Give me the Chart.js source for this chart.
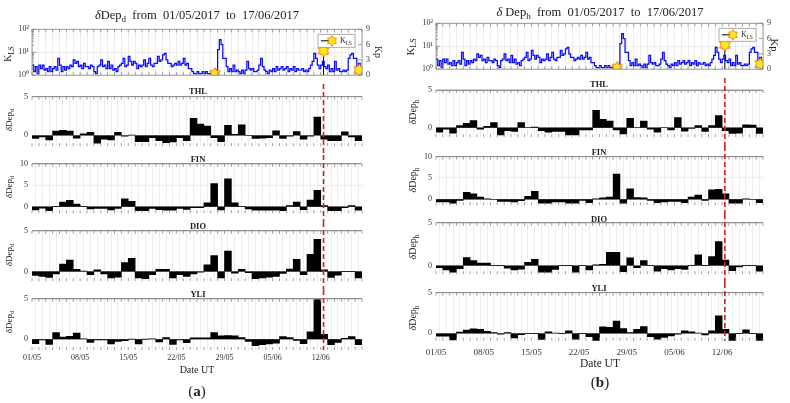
<!DOCTYPE html>
<html>
<head>
<meta charset="utf-8">
<script src="https://cdn.jsdelivr.net/npm/chart.js@4.4.1/dist/chart.umd.min.js"></script>
<style>
body{margin:0;background:#fff;width:790px;height:403px;position:relative;overflow:hidden;font-family:'Liberation Serif','Times New Roman',serif;color:#222}
canvas{position:absolute}
.t{position:absolute;white-space:pre;transform:translate(-50%,-50%);line-height:1}
.r{transform:translate(-50%,-50%) rotate(-90deg)}
.rr{transform:translate(-50%,-50%) rotate(90deg)}
.b{font-weight:bold}
sub{font-size:72%;vertical-align:-0.35em;line-height:0}
</style>
</head>
<body>
<script>
// Data
const days = 48;
const tickLabels = ['01/05', '08/05', '15/05', '22/05', '29/05', '05/06', '12/06'];

// Kp, 4 values per day (6 h)
const kp = [
    2.0, 0.7, 1.7, 0.3,  2.0, 1.3, 2.0, 1.0,  1.3, 0.7, 1.7, 0.7,  1.3, 1.7, 1.0, 3.3,
    2.0, 0.7, 1.7, 1.0,  1.7, 1.3, 2.0, 1.7,  3.0, 2.3, 2.7, 1.7,  2.0, 1.3, 2.3, 1.7,
    1.7, 1.3, 2.0, 1.7,  0.7, 0.3, 1.7, 2.0,  3.0, 1.7, 2.0, 1.3,  2.7, 1.3, 2.0, 1.0,
    1.3, 0.7, 1.7, 2.0,  2.3, 3.3, 1.7, 2.0,  3.7, 2.7, 2.0, 2.7,  2.3, 1.3, 2.0, 1.7,
    2.0, 3.0, 1.7, 2.3,  3.3, 2.0, 1.7, 2.3,  2.3, 3.7, 2.7, 3.0,  4.0, 4.3, 3.0, 2.3,
    2.3, 1.7, 2.0, 2.3,  2.0, 2.7, 2.0, 2.3,  3.3, 2.0, 2.3, 1.3,  1.3, 0.7, 0.3, 0.3,
    0.7, 0.3, 0.3, 0.7,  0.3, 0.7, 0.3, 0.3,  0.3, 0.3, 0.7, 1.0,  5.0, 7.0, 6.0, 3.3,
    3.3, 1.7, 0.7, 1.3,  0.7, 2.0, 0.7, 1.0,  0.7, 0.3, 1.0, 0.3,  1.0, 2.7, 1.3, 1.0,
    1.3, 0.7, 0.7, 1.0,  2.0, 3.3, 1.7, 1.0,  0.7, 0.3, 1.0, 0.7,  1.3, 0.7, 1.7, 1.0,
    1.3, 1.7, 1.0, 1.3,  1.7, 0.7, 1.3, 1.0,  1.7, 0.7, 1.3, 1.0,  1.0, 1.3, 0.7, 1.0,
    0.7, 1.3, 2.0, 2.7,  4.3, 3.3, 2.0, 1.3,  2.0, 2.7, 1.7, 1.3,  2.0, 0.7, 1.3, 0.7,
    2.7, 1.0, 1.3, 0.7,  0.7, 1.0, 0.7, 1.0,  3.3, 4.0, 4.3, 3.3,  3.3, 0.7, 2.3, 1.0
];

const klsDay = [26.6, 42.4, 47.6];
const klsVal = [1.15, 11.5, 1.7];
const eventDay = 42.4;

// daily deltas, panel (a)
const thlD = [-0.4, -0.2, -0.6, 0.55, 0.65, 0.55, -0.35, 0.2, 0.4, -1.0, -0.5, -0.6, 0.4, -0.1, 0.05, -0.8, -0.8, -0.3, -0.7, -0.95, -0.85, -0.3, -0.7, 2.2, 1.45, 1.2, -0.3, -0.8, 1.3, 0.15, 1.35, -0.05, -0.4, -0.35, -0.3, 0.6, -0.4, -0.1, 0.5, -0.5, -0.1, 2.35, -0.5, -0.7, -0.7, 0.45, -0.2, -0.7];
const finD = [-0.75, -0.3, -0.9, 0.05, 1.1, 1.5, 0.6, 0.1, -0.5, -0.4, -0.4, -0.75, -0.4, 1.85, 1.25, -0.9, -0.9, -0.4, -0.7, -0.8, -0.8, -0.4, -0.6, -0.2, -0.2, 0.9, 5.4, -0.75, 6.5, 0.9, 0.1, -0.5, -0.8, -0.8, -0.8, -0.8, -0.9, 0.3, 1.1, -0.7, 1.55, 3.85, 0.3, -0.9, -0.9, -0.2, 0.25, -0.8];
const dioD = [-0.5, -0.6, -0.75, -0.3, 0.9, 1.4, 0.25, 0.05, -0.4, 0.2, -0.3, -0.8, -0.7, 1.1, 1.6, -0.8, -0.9, -0.4, 0.25, 0.25, -0.8, -0.4, -0.6, -0.3, -0.1, 0.8, 1.95, -0.8, 2.5, -0.2, 0.25, -0.15, -0.9, -0.8, -0.7, -0.6, -0.25, 0.3, 1.5, -0.4, 2.1, 3.95, 0.2, -0.75, -0.45, 0, 0, -0.8];
const yliD = [-0.55, -0.1, -0.65, 0.8, 0.25, 0.35, 0.75, 0.05, -0.4, -0.1, -0.1, -0.6, -0.3, -0.2, 0, -0.6, 0, 0.05, -0.35, 0.2, -0.65, -0.1, -0.45, 0.15, 0.15, 0.15, 0.8, 0.4, 0.45, 0.4, 0.2, -0.3, -0.8, -0.7, -0.6, -0.5, 0.3, 0.2, -0.15, -0.55, 0.9, 4.9, 0.6, -0.7, -0.4, 0.1, 0.3, -0.7];

// daily deltas, panel (b)
const thlH = [-0.6, -0.2, -0.7, 0.3, 0.6, 0.95, -0.2, 0.2, 0.7, -0.95, -0.4, -0.5, 0.7, 0, 0.1, -0.4, -0.6, -0.5, -0.5, -0.95, -0.95, -0.3, -0.3, 2.3, 1.1, 0.9, -0.3, -0.8, 1.25, 0, 0.9, -0.2, -0.6, 0, -0.3, 1.35, -0.45, -0.1, 0.3, -0.5, 0.3, 1.6, -0.4, -0.75, -0.7, 0.4, 0.35, -0.75];
const finH = [-0.6, -0.6, -0.9, -0.3, 1.65, 1.25, 0.5, 0.1, 0, -0.5, -0.5, -0.6, -0.35, 0.7, 1.85, -0.9, -0.9, -0.6, -0.6, -0.9, -0.9, -0.3, -0.8, 0.05, 0.35, 0.5, 5.9, -0.9, 2.45, 0.4, 0.35, -0.3, -0.8, -0.6, -0.5, -0.5, -0.8, 0.5, 1.0, -0.3, 2.2, 2.35, 1.3, -0.9, -0.9, 0.1, 0, -0.8];
const dioH = [-0.25, -0.5, -0.75, -0.35, 0.95, 0.6, 0.3, 0.3, 0, 0, -0.3, -0.5, -0.4, 0.4, 0.75, -0.75, -0.75, -0.45, 0, 0, -0.75, 0, -0.5, 0.1, 0.15, 1.55, 1.55, -0.7, 0.9, -0.25, 0.6, 0, -0.65, -0.35, -0.5, -0.35, -0.45, 0, 1.25, 0, 1.05, 2.8, 0.65, -0.6, -0.15, 0, 0, -0.65];
const yliH = [-0.35, -0.35, -0.8, 0.15, 0.4, 0.55, 0.5, 0.25, 0.1, -0.1, 0.1, -0.55, -0.15, 0, 0, -0.75, 0.2, 0.05, 0, 0.3, -0.7, 0, -0.4, -0.9, 0.8, 0.75, 1.5, 0.6, 0.1, 0.5, 0.85, -0.4, -0.7, -0.5, -0.3, -0.1, 0.3, 0.2, 0.05, -0.2, 0.3, 2.15, 0.5, -0.9, 0, 0.45, 0, -0.9];

const SERIF = "'Liberation Serif', 'Times New Roman', serif";
const gridCol = '#e4e4e4';
const axisCol = '#858585';
const sup = ['\u2070', '\u00b9', '\u00b2'];

// hexagram used for K_LS points
function makeStar(size) {
    const c = document.createElement('canvas');
    c.width = size; c.height = size;
    const g = c.getContext('2d');
    const R = size / 2 - 0.8, r = R * 0.6, cx = size / 2, cy = size / 2;
    g.beginPath();
    for (let i = 0; i < 12; i++) {
        const rad = i % 2 === 0 ? R : r;
        const ang = -Math.PI / 2 + i * Math.PI / 6;
        const px = cx + rad * Math.cos(ang), py = cy + rad * Math.sin(ang);
        if (i === 0) g.moveTo(px, py); else g.lineTo(px, py);
    }
    g.closePath();
    g.fillStyle = '#ffe81e';
    g.fill();
    g.strokeStyle = '#f06a0a';
    g.lineWidth = 0.9;
    g.stroke();
    return c;
}
const starImg = makeStar(14);

function addCanvas(x, y, w, h) {
    const c = document.createElement('canvas');
    c.width = w; c.height = h;
    c.style.left = x + 'px'; c.style.top = y + 'px';
    c.style.width = w + 'px'; c.style.height = h + 'px';
    document.body.appendChild(c);
    return c;
}

function txt(html, x, y, size, cls) {
    const d = document.createElement('div');
    d.className = 't ' + (cls || '');
    d.style.left = x + 'px';
    d.style.top = y + 'px';
    d.style.fontSize = size + 'px';
    d.innerHTML = html;
    document.body.appendChild(d);
}

const dayTicks = s => { s.ticks = Array.from({ length: days + 1 }, (_, d) => ({ value: d })); };
const xLabel = v => (v % 7 === 0 && tickLabels[v / 7]) ? tickLabels[v / 7] : '';

// matlab-ish frame, inner ticks, event line, legend, stems
const framePlugin = {
    id: 'frame',
    beforeDatasetsDraw(chart, args, o) {
        if (!o.stems) return;
        const { ctx, chartArea: a, scales } = chart;
        ctx.save();
        ctx.strokeStyle = '#000';
        ctx.lineWidth = 1;
        ctx.beginPath();
        klsDay.forEach((d, i) => {
            const x = scales.x.getPixelForValue(d);
            ctx.moveTo(x, a.bottom);
            ctx.lineTo(x, scales.y.getPixelForValue(klsVal[i]));
        });
        ctx.stroke();
        ctx.restore();
    },
    afterDatasetsDraw(chart, args, o) {
        const { ctx, chartArea: a, scales } = chart;
        const xs = scales.x;
        ctx.save();
        ctx.strokeStyle = axisCol;
        ctx.lineWidth = 0.8;
        ctx.beginPath();
        for (let d = 0; d <= days; d++) {
            const x = xs.getPixelForValue(d);
            ctx.moveTo(x, a.top); ctx.lineTo(x, a.top + 3);
            ctx.moveTo(x, a.bottom); ctx.lineTo(x, a.bottom - 3);
        }
        if (o.box) {
            ctx.rect(a.left, a.top, a.right - a.left, a.bottom - a.top);
            [1, 10, 100].forEach(v => {
                const y = scales.y.getPixelForValue(v);
                ctx.moveTo(a.left, y); ctx.lineTo(a.left + 4, y);
            });
            for (let e = 1; e <= 10; e *= 10) {
                for (let m = 2; m <= 9; m++) {
                    const y = scales.y.getPixelForValue(m * e);
                    ctx.moveTo(a.left, y); ctx.lineTo(a.left + 2, y);
                }
            }
            [0, 3, 6, 9].forEach(v => {
                const y = scales.kp.getPixelForValue(v);
                ctx.moveTo(a.right, y); ctx.lineTo(a.right - 4, y);
            });
        } else {
            ctx.moveTo(a.left, a.top); ctx.lineTo(a.right, a.top);
        }
        ctx.stroke();

        if (o.event) {
            const x = xs.getPixelForValue(eventDay);
            ctx.strokeStyle = '#d81e1e';
            ctx.lineWidth = 1.6;
            ctx.setLineDash([5, 3]);
            ctx.beginPath();
            ctx.moveTo(x, 0);
            ctx.lineTo(x, o.event === 'plot' ? a.bottom : chart.height);
            ctx.stroke();
            ctx.setLineDash([]);
        }

        if (o.legend) {
            const bw = 37, bh = 13;
            const bx = a.right - 44, by = a.top + 5;
            ctx.fillStyle = '#fff';
            ctx.fillRect(bx, by, bw, bh);
            ctx.strokeStyle = '#999';
            ctx.lineWidth = 0.8;
            ctx.strokeRect(bx, by, bw, bh);
            ctx.strokeStyle = '#000';
            ctx.lineWidth = 1;
            ctx.beginPath();
            ctx.moveTo(bx + 3, by + bh / 2); ctx.lineTo(bx + 17, by + bh / 2);
            ctx.stroke();
            ctx.drawImage(starImg, bx + 14 - 6, by + bh / 2 - 6, 12, 12);
            ctx.fillStyle = '#222';
            ctx.textBaseline = 'middle';
            ctx.font = '8px ' + SERIF;
            ctx.fillText('K', bx + 22, by + bh / 2);
            ctx.font = '5.5px ' + SERIF;
            ctx.fillText('LS', bx + 27.5, by + bh / 2 + 2.5);
        }
        ctx.restore();
    }
};

function topPanel(fig) {
    const c0 = fig.top.c[0], c1 = fig.top.c[1];
    const cv = addCanvas(fig.x, c0, fig.w, c1 - c0);
    const kpPts = kp.map((v, i) => ({ x: i * 0.25, y: v }));
    kpPts.push({ x: days, y: kp[kp.length - 1] });
    new Chart(cv, {
        type: 'line',
        data: {
            datasets: [
                {
                    data: klsDay.map((d, i) => ({ x: d, y: klsVal[i] })),
                    yAxisID: 'y', showLine: false,
                    pointStyle: starImg, pointRadius: 7, pointHoverRadius: 7
                },
                {
                    data: kpPts, yAxisID: 'kp',
                    borderColor: '#0a0aff', borderWidth: 1.25,
                    stepped: true, pointRadius: 0, fill: false
                }
            ]
        },
        options: {
            responsive: false, animation: false, devicePixelRatio: 1,
            layout: { padding: { top: fig.top.p[0] - c0, left: 0, right: 0, bottom: 0 } },
            plugins: {
                legend: { display: false }, tooltip: { enabled: false },
                frame: { box: true, stems: true, legend: true }
            },
            scales: {
                x: {
                    type: 'linear', min: 0, max: days,
                    afterBuildTicks: dayTicks,
                    grid: { color: gridCol, lineWidth: 0.7, drawTicks: false },
                    border: { display: false },
                    ticks: { display: false },
                    afterFit: s => { s.height = c1 - fig.top.p[1]; }
                },
                y: {
                    type: 'logarithmic', position: 'left', min: 1, max: 100,
                    afterBuildTicks: s => { s.ticks = [1, 10, 100].map(v => ({ value: v })); },
                    grid: { color: gridCol, lineWidth: 0.7, drawTicks: false },
                    border: { display: false },
                    ticks: {
                        padding: 3, color: '#333', font: { family: SERIF, size: 8 },
                        callback: v => '10' + sup[Math.round(Math.log10(v))]
                    },
                    afterFit: s => { s.width = fig.left - fig.x; }
                },
                kp: {
                    type: 'linear', position: 'right', min: 0, max: 9,
                    afterBuildTicks: s => { s.ticks = [0, 3, 6, 9].map(v => ({ value: v })); },
                    grid: { drawOnChartArea: false, drawTicks: false },
                    border: { display: false },
                    ticks: { padding: 4, color: '#333', font: { family: SERIF, size: 8 } },
                    afterFit: s => { s.width = fig.x + fig.w - fig.right; }
                }
            }
        },
        plugins: [framePlugin]
    });
}

function barPanel(fig, pn, last) {
    const cv = addCanvas(fig.x, pn.c[0], fig.w, pn.c[1] - pn.c[0]);
    new Chart(cv, {
        type: 'bar',
        data: {
            datasets: [{
                data: pn.data.map((v, i) => ({ x: i + 0.5, y: v })),
                backgroundColor: '#000', borderColor: '#000', borderWidth: 0,
                barPercentage: 1, categoryPercentage: 1
            }]
        },
        options: {
            responsive: false, animation: false, devicePixelRatio: 1,
            layout: { padding: { top: pn.p[0] - pn.c[0], left: 0, right: fig.x + fig.w - fig.right, bottom: 0 } },
            plugins: {
                legend: { display: false }, tooltip: { enabled: false },
                frame: { event: last ? 'plot' : 'full' }
            },
            scales: {
                x: {
                    type: 'linear', min: 0, max: days, offset: false,
                    afterBuildTicks: dayTicks,
                    grid: { color: gridCol, lineWidth: 0.7, drawTicks: false },
                    border: { display: false },
                    ticks: {
                        display: last, autoSkip: false, maxRotation: 0,
                        padding: fig.xlPad, color: '#333',
                        font: { family: SERIF, size: fig.xlSize },
                        callback: xLabel
                    },
                    afterFit: s => { s.height = pn.c[1] - pn.p[1]; }
                },
                y: {
                    min: pn.min, max: pn.max,
                    afterBuildTicks: s => { s.ticks = pn.ticks.map(v => ({ value: v })); },
                    grid: {
                        color: ctx => (ctx.tick.value === 0 || ctx.tick.value === pn.max) ? axisCol : gridCol,
                        lineWidth: 0.8, drawTicks: false
                    },
                    border: { display: false },
                    ticks: { padding: 4, color: '#333', font: { family: SERIF, size: 8 } },
                    afterFit: s => { s.width = fig.left - fig.x; }
                }
            }
        },
        plugins: [framePlugin]
    });
}

function figure(fig) {
    topPanel(fig);
    fig.bars.forEach((pn, i) => barPanel(fig, pn, i === fig.bars.length - 1));
}

const figA = {
    x: 0, w: 395, left: 32, right: 362, xlPad: 3, xlSize: 8,
    top: { c: [18, 84], p: [29.3, 77.3] },
    bars: [
        { c: [84, 155], p: [96.7, 147.7], min: -1.4, max: 5, ticks: [0, 5], data: thlD },
        { c: [155, 222], p: [163.3, 215], min: -1.5, max: 10, ticks: [0, 5, 10], data: finD },
        { c: [222, 290], p: [230.7, 281.7], min: -1.2, max: 5, ticks: [0, 5], data: dioD },
        { c: [290, 364], p: [298.3, 350], min: -1.35, max: 5, ticks: [0, 5], data: yliD }
    ]
};
const figB = {
    x: 396, w: 394, left: 436, right: 763, xlPad: 7, xlSize: 9,
    top: { c: [14, 78], p: [23.3, 71.7] },
    bars: [
        { c: [78, 146], p: [90, 140], min: -1.25, max: 5, ticks: [0, 5], data: thlH },
        { c: [146, 214], p: [156.7, 208], min: -1.4, max: 10, ticks: [0, 5, 10], data: finH },
        { c: [214, 283], p: [222.3, 274.3], min: -1.0, max: 5, ticks: [0, 5], data: dioH },
        { c: [283, 362], p: [292.7, 340.7], min: -0.9, max: 5, ticks: [0, 5], data: yliH }
    ]
};
figure(figA);
figure(figB);

// texts (a)
txt('<i>δ</i>Dep<sub>d</sub>  from  01/05/2017  to  17/06/2017', 197, 15, 12.5);
txt('K<sub>LS</sub>', 8, 54, 10, 'r');
txt('Kp', 378, 52, 10, 'rr');
txt('THL', 198, 91, 8.5, 'b');
txt('FIN', 198, 159, 8.5, 'b');
txt('DIO', 198, 226, 8.5, 'b');
txt('YLI', 198, 294, 8.5, 'b');
[120, 187, 255, 322].forEach(y => txt('<i>δ</i>Dep<sub>d</sub>', 9, y, 9, 'r'));
txt('Date UT', 197, 370, 10);
txt('(<b>a</b>)', 197, 391, 15);

// texts (b)
txt('<i>δ</i> Dep<sub>h</sub>  from  01/05/2017  to  17/06/2017', 600, 12, 12.5);
txt('K<sub>LS</sub>', 410, 47, 11, 'r');
txt('Kp', 774, 45, 10.5, 'rr');
txt('THL', 599, 84, 8.5, 'b');
txt('FIN', 599, 152, 8.5, 'b');
txt('DIO', 599, 219, 8.5, 'b');
txt('YLI', 599, 288, 8.5, 'b');
[112, 180, 247, 318].forEach(y => txt('<i>δ</i>Dep<sub>h</sub>', 413, y, 10, 'r'));
txt('Date UT', 600, 364, 11.5);
txt('(<b>b</b>)', 600, 382, 15);
</script>
</body>
</html>
